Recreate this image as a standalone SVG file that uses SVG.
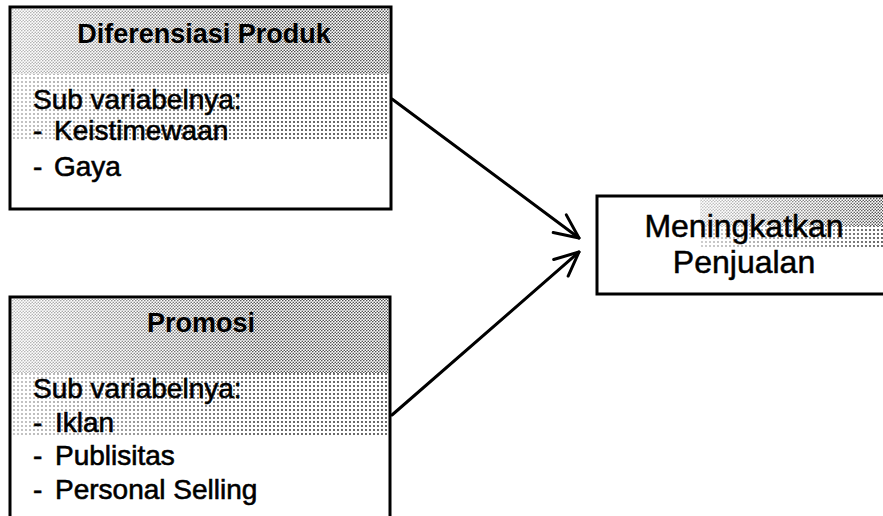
<svg xmlns="http://www.w3.org/2000/svg" width="883" height="516" viewBox="0 0 883 516">
  <style>
    .box { fill: #ffffff; stroke: #000000; stroke-width: 3; }
    .title { font-family: "Liberation Sans", Arial, sans-serif; font-size: 27px; font-weight: bold; fill: #000; text-anchor: middle; }
    .body { font-family: "Liberation Sans", Arial, sans-serif; font-size: 28px; fill: #000; stroke: #000; stroke-width: 0.6; }
    .main { font-family: "Liberation Sans", Arial, sans-serif; font-size: 32px; fill: #000; stroke: #000; stroke-width: 0.5; text-anchor: middle; }
    .edge { fill: none; stroke: #000; stroke-width: 3; stroke-linecap: round; }
  </style>
  <defs>
    <pattern id="dense" width="3" height="3" patternUnits="userSpaceOnUse">
      <circle cx="0.75" cy="0.75" r="0.8" fill="#444"/>
      <circle cx="2.25" cy="2.25" r="0.8" fill="#444"/>
    </pattern>
    <pattern id="grid" width="4" height="4" patternUnits="userSpaceOnUse">
      <circle cx="2" cy="2" r="0.9" fill="#222"/>
    </pattern>
    <linearGradient id="fadeL" x1="0" y1="0" x2="1" y2="0">
      <stop offset="0" stop-color="#fff" stop-opacity="0.35"/>
      <stop offset="0.3" stop-color="#fff" stop-opacity="1"/>
      <stop offset="1" stop-color="#fff" stop-opacity="1"/>
    </linearGradient>
    <linearGradient id="fadeR" x1="0" y1="0" x2="1" y2="0">
      <stop offset="0" stop-color="#fff" stop-opacity="0"/>
      <stop offset="0.55" stop-color="#fff" stop-opacity="0.5"/>
      <stop offset="1" stop-color="#fff" stop-opacity="1"/>
    </linearGradient>
    <mask id="maskL"><rect x="0" y="0" width="883" height="516" fill="url(#fadeL)"/></mask>
    <mask id="maskR"><rect x="597" y="0" width="286" height="516" fill="url(#fadeR)"/></mask>
    <marker id="arrow" viewBox="0 0 30 30" refX="26" refY="15" markerWidth="30" markerHeight="30" markerUnits="userSpaceOnUse" orient="auto">
      <path d="M2,4 L26,15 L2,26" fill="none" stroke="#000" stroke-width="3" stroke-linecap="round" stroke-linejoin="round"/>
    </marker>
  </defs>

  <g id="connectors">
    <line class="edge" x1="392" y1="99" x2="579" y2="238" marker-end="url(#arrow)"/>
    <line class="edge" x1="392" y1="415" x2="579" y2="252" marker-end="url(#arrow)"/>
  </g>

  <g id="node-diferensiasi">
    <rect class="box" x="10" y="7" width="381" height="202"/>
    <g mask="url(#maskL)">
      <rect x="12" y="9" width="377" height="65" fill="url(#dense)"/>
      <rect x="12" y="74" width="377" height="65" fill="url(#grid)"/>
    </g>
    <text class="title" x="204" y="43">Diferensiasi Produk</text>
    <text class="body" x="33" y="109">Sub variabelnya:</text>
    <text class="body" y="140"><tspan x="33">-</tspan><tspan x="54">Keistimewaan</tspan></text>
    <text class="body" y="176"><tspan x="33">-</tspan><tspan x="54">Gaya</tspan></text>
  </g>

  <g id="node-promosi">
    <rect class="box" x="10" y="297" width="380" height="240"/>
    <g mask="url(#maskL)">
      <rect x="12" y="299" width="376" height="74" fill="url(#dense)"/>
      <rect x="12" y="373" width="376" height="62" fill="url(#grid)"/>
    </g>
    <text class="title" x="201" y="332">Promosi</text>
    <text class="body" x="33" y="398">Sub variabelnya:</text>
    <text class="body" y="432"><tspan x="33">-</tspan><tspan x="55">Iklan</tspan></text>
    <text class="body" y="465"><tspan x="33">-</tspan><tspan x="55">Publisitas</tspan></text>
    <text class="body" y="499"><tspan x="33">-</tspan><tspan x="55">Personal Selling</tspan></text>
  </g>

  <g id="node-penjualan">
    <rect class="box" x="597" y="196" width="300" height="98"/>
    <g mask="url(#maskR)">
      <rect x="700" y="198" width="183" height="28" fill="url(#dense)"/>
      <rect x="700" y="226" width="183" height="22" fill="url(#grid)"/>
    </g>
    <text class="main" x="744" y="237">Meningkatkan</text>
    <text class="main" x="744" y="273">Penjualan</text>
  </g>
</svg>
